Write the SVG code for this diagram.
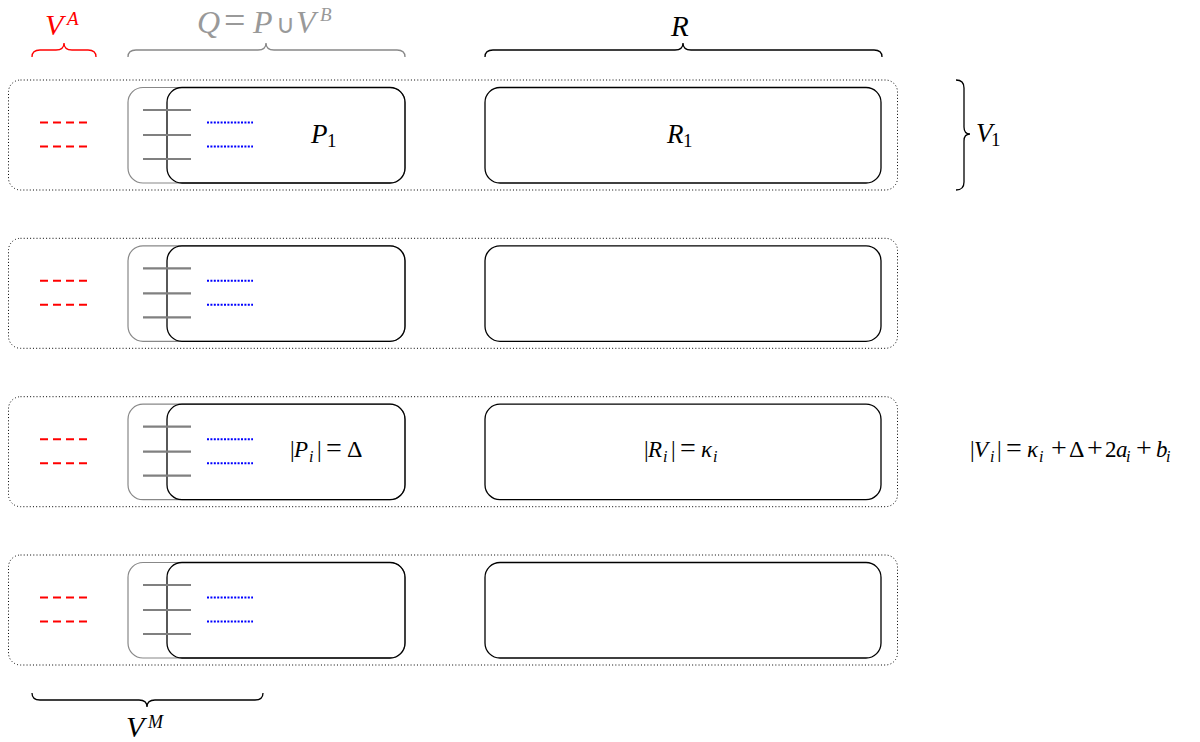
<svg xmlns="http://www.w3.org/2000/svg" width="1200" height="742" viewBox="0 0 1200 742">
<style>
.outer{fill:none;stroke:#000;stroke-width:1;stroke-dasharray:1 2.2}
.grayrect{fill:none;stroke:#888;stroke-width:1.2}
.prect{fill:none;stroke:#000;stroke-width:1.3}
.rrect{fill:none;stroke:#000;stroke-width:1.3}
.gline{stroke:#808080;stroke-width:2.2}
.blue{stroke:#0000ff;stroke-width:2;stroke-dasharray:2 1.4}
.red{stroke:#ff0000;stroke-width:2;stroke-dasharray:8 5}
.brace{fill:none;stroke-width:1.3}
.t{font-family:"Liberation Serif","Times New Roman",serif;fill:#000}
.it{font-style:italic}
.sub{font-style:italic;font-size:16px}
.op{font-size:28px}
</style>
<defs>
<g id="row">
<rect class="outer" x="8.5" y="0" width="889" height="110" rx="12"/>
<rect class="grayrect" x="128" y="7.5" width="277" height="95.5" rx="15"/>
<rect class="prect" x="167" y="7.5" width="238" height="95.5" rx="15"/>
<rect class="rrect" x="485" y="7.5" width="396" height="95.5" rx="15"/>
<line class="gline" x1="143" y1="30" x2="191" y2="30"/>
<line class="gline" x1="143" y1="55" x2="191" y2="55"/>
<line class="gline" x1="143" y1="79" x2="191" y2="79"/>
<line class="blue" x1="207" y1="42.5" x2="253" y2="42.5"/>
<line class="blue" x1="207" y1="66.5" x2="253" y2="66.5"/>
<line class="red" x1="40" y1="42.5" x2="88" y2="42.5"/>
<line class="red" x1="40" y1="66.5" x2="88" y2="66.5"/>
</g>
</defs>
<g id="row1"><use href="#row" x="0" y="80"/>
<text class="t" y="143" font-size="27"><tspan class="it" x="311">P</tspan><tspan font-size="19" x="327" y="147">1</tspan></text>
<text class="t" y="143" font-size="27"><tspan class="it" x="667">R</tspan><tspan font-size="19" x="683" y="147">1</tspan></text>
</g>
<g id="row2"><use href="#row" x="0" y="238.3"/></g>
<g id="row3"><use href="#row" x="0" y="396.7"/>
<text class="t" y="457" font-size="23"><tspan x="290">|</tspan><tspan class="it" x="294">P</tspan><tspan class="sub" x="309" y="462">i</tspan><tspan x="317" y="457">|</tspan><tspan class="op" x="326">=</tspan><tspan x="347" font-size="24">Δ</tspan></text>
<text class="t" y="457" font-size="23"><tspan x="644">|</tspan><tspan class="it" x="648">R</tspan><tspan class="sub" x="663" y="462">i</tspan><tspan x="671" y="457">|</tspan><tspan class="op" x="680">=</tspan><tspan class="it" x="701">κ</tspan><tspan class="sub" x="713" y="462">i</tspan></text>
</g>
<g id="row4"><use href="#row" x="0" y="555"/></g>
<g id="braces">
<path class="brace" stroke="#ff0000" d="M32 57 Q32 50 40 50 L56 50 Q64 50 64 43 Q64 50 72 50 L88 50 Q96 50 96 57"/>
<path class="brace" stroke="#888" d="M128 57 Q128 50 136 50 L258 50 Q266 50 266 43 Q266 50 274 50 L397 50 Q405 50 405 57"/>
<path class="brace" stroke="#000" d="M485 57 Q485 50 493 50 L675 50 Q683 50 683 43 Q683 50 691 50 L874 50 Q882 50 882 57"/>
<path class="brace" stroke="#000" d="M956 80 Q964 80 964 88 L964 127 Q964 134 970 134 Q964 134 964 141 L964 182 Q964 190 956 190"/>
<path class="brace" stroke="#000" d="M32 693 Q32 700 40 700 L139 700 Q147 700 147 707 Q147 700 155 700 L255 700 Q263 700 263 693"/>
</g>
<g id="labels">
<text class="t" y="35" font-size="30" style="fill:#ff0000"><tspan class="it" x="45">V</tspan><tspan class="it" font-size="19" x="67" y="25">A</tspan></text>
<text class="t" y="33" font-size="32" style="fill:#999"><tspan class="it" x="197">Q</tspan><tspan x="224" font-size="38">=</tspan><tspan class="it" x="253">P</tspan><tspan x="276" font-size="26">∪</tspan><tspan class="it" x="296">V</tspan><tspan class="it" font-size="19" x="320" y="21">B</tspan></text>
<text class="t it" x="671" y="36" font-size="29">R</text>
<text class="t" y="142" font-size="27"><tspan class="it" x="976">V</tspan><tspan font-size="19" x="991" y="146">1</tspan></text>
<text class="t" y="737" font-size="30"><tspan class="it" x="126">V</tspan><tspan class="it" font-size="18" x="148" y="728">M</tspan></text>
<text class="t" y="457" font-size="23"><tspan x="970">|</tspan><tspan class="it" x="974">V</tspan><tspan class="sub" x="990" y="462">i</tspan><tspan x="997" y="457">|</tspan><tspan class="op" x="1006">=</tspan><tspan class="it" x="1027">κ</tspan><tspan class="sub" x="1039" y="462">i</tspan><tspan class="op" x="1051" y="457">+</tspan><tspan x="1069" font-size="24">Δ</tspan><tspan class="op" x="1087">+</tspan><tspan x="1105">2</tspan><tspan class="it" x="1116">a</tspan><tspan class="sub" x="1126" y="462">i</tspan><tspan class="op" x="1136" y="457">+</tspan><tspan class="it" x="1156">b</tspan><tspan class="sub" x="1166" y="462">i</tspan></text>
</g>
</svg>
